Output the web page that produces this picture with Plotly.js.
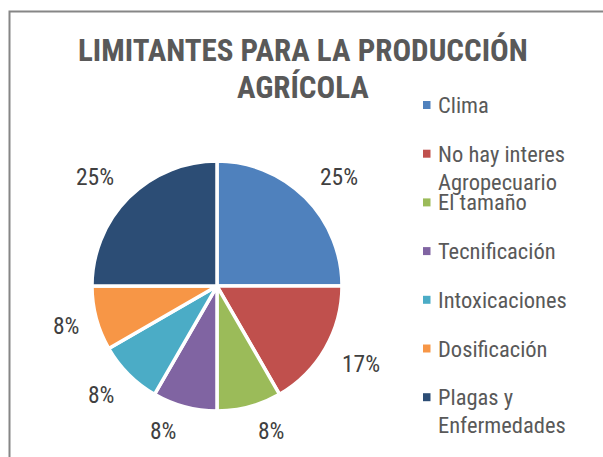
<!DOCTYPE html>
<html><head><meta charset="utf-8">
<script src="https://cdn.plot.ly/plotly-3.0.1.min.js"></script>
<style>html,body{margin:0;padding:0;background:#fff}#chart{width:603px;height:457px}</style>
</head><body><div id="chart"></div>
<script>
const categories = ["Clima", "No hay interes<br>Agropecuario", "El tamaño", "Tecnificación", "Intoxicaciones", "Dosificación", "Plagas y<br>Enfermedades"];
const values = [3, 2, 1, 1, 1, 1, 3];
const colors = ["#4F81BD", "#C0504D", "#9BBB59", "#8064A2", "#4BACC6", "#F79646", "#2C4D75"];
const titleText = "LIMITANTES PARA LA PRODUCCIÓN<br>AGRÍCOLA";

const FONT = "'Roboto Condensed', 'Liberation Sans Narrow', 'Arial Narrow', sans-serif";
const W = 603, H = 457;
const px = x => x / W, py = y => 1 - y / H;

// pie box in pixels
const pieL = 92, pieR = 342, pieT = 161, pieB = 411;
const cx = (pieL + pieR) / 2, cy = (pieT + pieB) / 2, rad = (pieR - pieL) / 2;

const trace = {
  type: 'pie',
  labels: categories,
  values: values,
  sort: false,
  direction: 'clockwise',
  rotation: 0,
  marker: {colors: colors, line: {color: '#ffffff', width: 3.5}},
  textinfo: 'none',
  hoverinfo: 'none',
  showlegend: false,
  domain: {x: [px(pieL), px(pieR)], y: [py(pieB), py(pieT)]}
};

const annotations = [];
const shapes = [{
  type: 'rect', xref: 'paper', yref: 'paper',
  x0: px(9.5), x1: 1.05, y0: -0.05, y1: py(11.5),
  line: {color: '#868686', width: 2}
}];

// percent labels, placed outside the end of each slice at its mid angle
const total = values.reduce((a, b) => a + b, 0);
const lblFs = 23.5, anchorR = rad + 13;
let cum = 0;
values.forEach((v, i) => {
  const frac = v / total;
  const mid = (cum + frac / 2) * 2 * Math.PI;
  cum += frac;
  const txt = Math.round(frac * 100) + '%';
  const hw = 6 * txt.length + 6, hh = 11.9;
  const dx = Math.sin(mid), dy = -Math.cos(mid);
  const ox = Math.sign(dx) * hw * Math.min(1, Math.abs(dx) / 0.2);
  const oy = Math.sign(dy) * hh * Math.min(1, Math.abs(dy) / 0.7);
  annotations.push({
    xref: 'paper', yref: 'paper', x: px(cx + dx * anchorR + ox), y: py(cy + dy * anchorR + oy),
    xanchor: 'center', yanchor: 'middle', showarrow: false, text: txt, borderpad: 0,
    font: {family: FONT, size: lblFs, color: '#404040'}
  });
});

// legend
const legTop = 105, legStep = 48.7, legFs = 22.5, legLine = 28;
categories.forEach((c, i) => {
  const yc = legTop + i * legStep;
  c.split('<br>').forEach((line, k) => {
    annotations.push({
      xref: 'paper', yref: 'paper', x: px(437), y: py(yc + k * legLine - 0.62 * legFs),
      xanchor: 'left', yanchor: 'top', align: 'left', showarrow: false,
      text: line, borderpad: 0,
      font: {family: FONT, size: legFs, color: '#595959'}
    });
  });
  shapes.push({
    type: 'rect', xref: 'paper', yref: 'paper',
    x0: px(423), x1: px(430.5), y0: py(yc + 4), y1: py(yc - 4),
    fillcolor: colors[i], line: {width: 0}
  });
});

// title
const titleFs = 31, titleLine = 38;
titleText.split('<br>').forEach((line, k) => {
  annotations.push({
    xref: 'paper', yref: 'paper', x: px(303), y: py(50 + k * titleLine),
    xanchor: 'center', yanchor: 'middle', showarrow: false, text: line, borderpad: 0,
    font: {family: FONT, size: titleFs, color: '#595959', weight: 'bold'}
  });
});

const layout = {
  width: W, height: H,
  margin: {l: 0, r: 0, t: 0, b: 0},
  paper_bgcolor: '#ffffff',
  showlegend: false,
  annotations: annotations,
  shapes: shapes
};
Plotly.newPlot('chart', [trace], layout, {displayModeBar: false, staticPlot: true});
</script></body></html>
